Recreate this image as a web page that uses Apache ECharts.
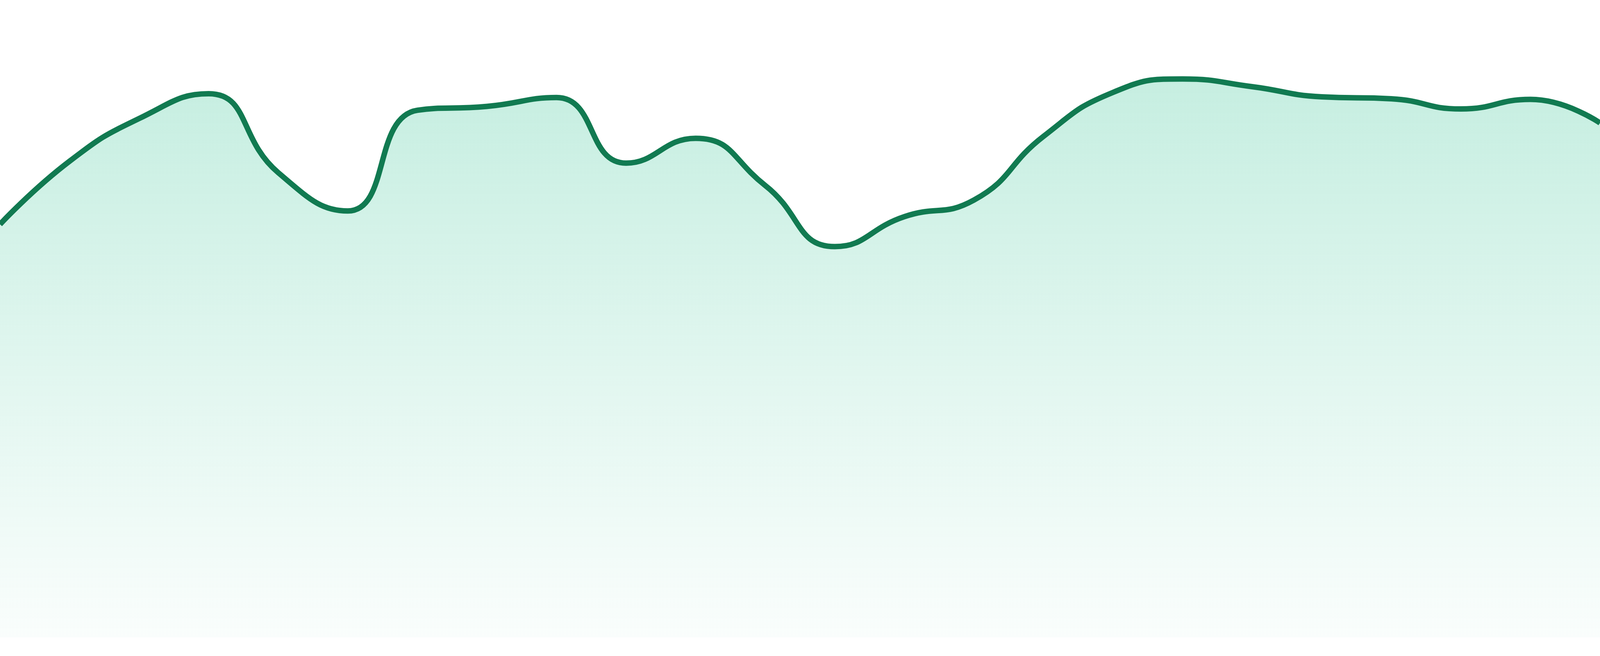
<!DOCTYPE html>
<html>
<head>
<meta charset="utf-8">
<title>area</title>
<script src="https://cdn.jsdelivr.net/npm/echarts@6/dist/echarts.min.js"></script>
<style>
	html, body { margin: 0; padding: 0; background: #fff; width: 100%; height: 100%; overflow: hidden; }
	#chart { width: 100vw; height: 100vh; }
</style>
</head>
<body>
<div id="chart"></div>
<script>
// x categories (no labels shown in the picture)
var categories = ['1', '2', '3', '4', '5', '6', '7', '8', '9', '10', '11', '12',
	'13', '14', '15', '16', '17', '18', '19', '20', '21', '22', '23', '24'];
// values, on a 0-100 scale
var values = [64.8, 74.7, 81.4, 85.3, 72.9, 66.9, 82.7, 83.3, 84.7, 74.4, 78.3, 70.9,
	61.3, 66.0, 68.6, 78.6, 85.5, 87.6, 86.4, 84.8, 84.5, 82.9, 84.4, 80.7];
var yMin = 0;
var yMax = 100;

var lineColor = '#117a51';

var myChart = echarts.init(document.getElementById('chart'));

var options = {
	animation: false,
	grid: {
		left: 0,
		right: 0,
		top: 0,
		bottom: '2.857%'
	},
	xAxis: {
		type: 'category',
		boundaryGap: false,
		data: categories,
		show: false
	},
	yAxis: {
		type: 'value',
		min: yMin,
		max: yMax,
		show: false
	},
	series: [{
		type: 'line',
		data: values,
		smooth: true,
		showSymbol: false,
		symbol: 'none',
		lineStyle: {
			color: lineColor,
			width: 14
		},
		areaStyle: {
			color: new echarts.graphic.LinearGradient(0, 0, 0, 1, [
				{ offset: 0, color: 'rgba(16, 185, 129, 0.34)' },
				{ offset: 1, color: 'rgba(16, 185, 129, 0.03)' }
			])
		}
	}]
};

myChart.setOption(options);
window.addEventListener('resize', function() {
	myChart.resize();
});
</script>
</body>
</html>
